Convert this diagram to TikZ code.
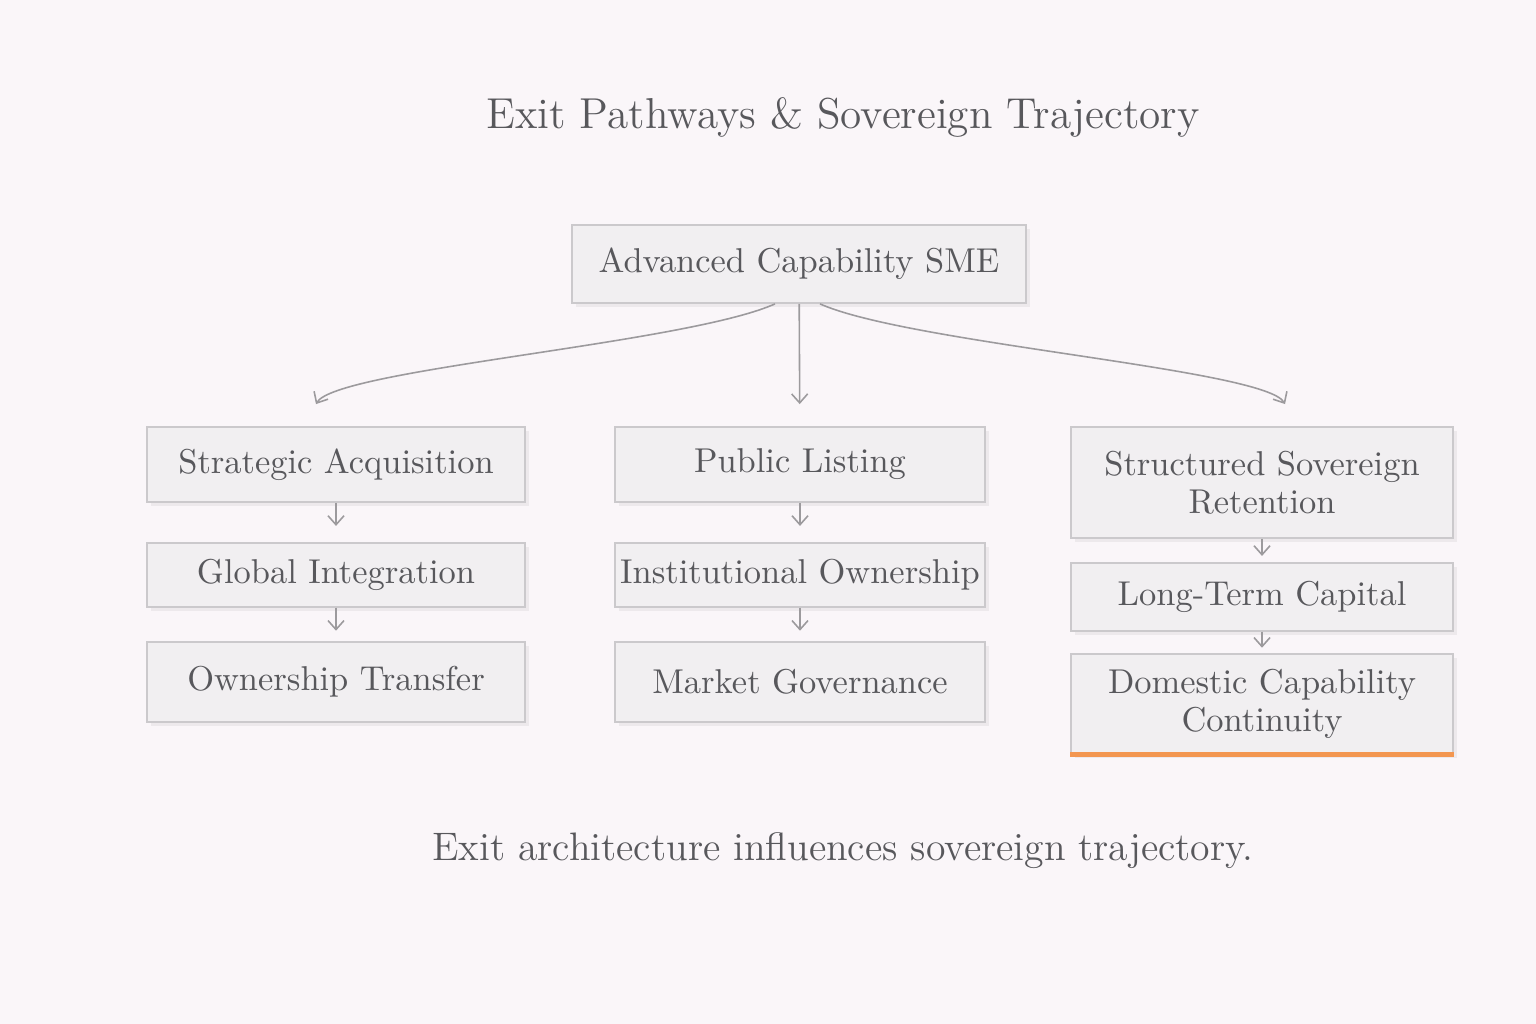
\documentclass[tikz,border=0pt]{standalone}
\usepackage{tikz}
\usetikzlibrary{positioning,arrows.meta,shadows}
\definecolor{paper}{HTML}{FAF6F9}
\definecolor{boxfill}{HTML}{F1EFF1}
\definecolor{boxline}{HTML}{CBC9CC}
\definecolor{ink}{HTML}{58585C}
\definecolor{wire}{HTML}{9C9A9D}
\definecolor{accent}{HTML}{F39650}

\begin{document}
\begin{tikzpicture}[x=0.01cm, y=-0.01cm,
  box/.style={draw=boxline, fill=boxfill, line width=0.5pt, align=center, text=ink,
              font=\fontsize{9.8}{10.8}\selectfont, inner sep=0pt,
              drop shadow={shadow xshift=0.4mm, shadow yshift=-0.4mm, fill=black, opacity=0.05}},
  colL/.style={box, minimum width=37.8mm},
  colM/.style={box, minimum width=37mm},
  colR/.style={box, minimum width=38.2mm},
  arr/.style={-{Straight Barb[length=0.9mm,width=1.6mm]}, draw=wire, line width=0.45pt},
  lab/.style={text=ink}]
\path[use as bounding box, fill=paper] (0,0) rectangle (1536,1024);
\node[lab, font=\fontsize{12.3}{14}\selectfont] (title) at (843,117) {Exit Pathways \& Sovereign Trajectory};
\node[box, minimum width=45.4mm, minimum height=7.8mm] (sme) at (799,264) {Advanced Capability SME};
% three exit columns
\node[colL, minimum height=7.5mm] (acq) at (336,464.5) {Strategic Acquisition};
\node[colL, minimum height=6.4mm, below=3.9mm of acq] (glob) {Global Integration};
\node[colL, minimum height=8mm, below=3.3mm of glob] (own) {Ownership Transfer};
\node[colM, minimum height=7.5mm] (pub) at (800,464.5) {Public Listing};
\node[colM, minimum height=6.4mm, below=3.9mm of pub] (inst) {Institutional Ownership};
\node[colM, minimum height=8mm, below=3.3mm of inst] (mkt) {Market Governance};
\node[colR, minimum height=11.1mm] (sov) at (1262,482.5) {Structured Sovereign\\Retention};
\node[colR, minimum height=6.8mm, below=2.3mm of sov] (cap) {Long-Term Capital};
\node[colR, minimum height=10mm, below=2.1mm of cap] (dom) {Domestic Capability\\Continuity};
\draw[accent, line width=1.3pt] (dom.south west) -- (dom.south east);
\node[lab, font=\fontsize{11.3}{13}\selectfont] (note) at (843,851) {Exit architecture influences sovereign trajectory.};
% branches
\draw[arr] ([xshift=-2.4mm]sme.south) .. controls +(-90,40) and +(20,-35) .. ([xshift=-2mm,yshift=2.2mm]acq.north);
\draw[arr, shorten >=2.2mm] (sme) -- (pub);
\draw[arr] ([xshift=2.1mm]sme.south) .. controls +(90,40) and +(-20,-35) .. ([xshift=2.3mm,yshift=2.2mm]sov.north);
\draw[arr, shorten >=1.6mm] (acq) -- (glob);
\draw[arr, shorten >=1mm] (glob) -- (own);
\draw[arr, shorten >=1.6mm] (pub) -- (inst);
\draw[arr, shorten >=1mm] (inst) -- (mkt);
\draw[arr, shorten >=0.6mm] (sov) -- (cap);
\draw[arr, shorten >=0.5mm] (cap) -- (dom);
\end{tikzpicture}
\end{document}
